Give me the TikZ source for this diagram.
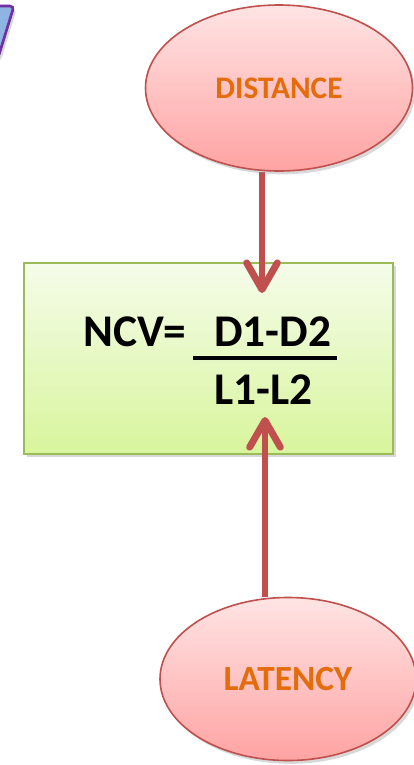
\documentclass[tikz,border=0pt]{standalone}
\usepackage{fontspec}
\setmainfont{Carlito}
\usetikzlibrary{shapes.geometric,arrows.meta,shadows}
\definecolor{ellborder}{HTML}{C0504D}
\definecolor{elltop}{HTML}{FFE4E4}
\definecolor{ellbot}{HTML}{FFA3A3}
\definecolor{orangetxt}{HTML}{E46C0A}
\definecolor{boxborder}{HTML}{9BBB59}
\definecolor{boxtop}{HTML}{F5FCEA}
\definecolor{boxbot}{HTML}{D8F59C}
\definecolor{arrcol}{HTML}{C0504D}
\definecolor{purp}{HTML}{7030A0}
\definecolor{lblue}{HTML}{8EB4E3}
\pgfdeclarelayer{back}
\pgfdeclarelayer{mid}
\pgfsetlayers{back,mid,main}
\tikzset{
  ell/.style={ellipse, draw=ellborder, line width=1.2pt, top color=elltop, bottom color=ellbot,
    inner sep=0pt, text=orangetxt,
    drop shadow={opacity=0.3, shadow xshift=2pt, shadow yshift=-2.5pt}},
  fbox/.style={rectangle, draw=boxborder, line width=1.2pt, top color=boxtop, bottom color=boxbot,
    inner sep=0pt, drop shadow={opacity=0.3, shadow xshift=2pt, shadow yshift=-2.5pt}},
  eqtxt/.style={inner sep=0pt, anchor=base west, font=\bfseries\fontsize{34}{40}\selectfont},
  arr/.style={draw=arrcol, line width=5.2pt, -{Straight Barb[length=20pt, width=23pt, round]}}
}
\begin{document}
\begin{tikzpicture}[x=0.75pt, y=-0.75pt]
\clip (0,0) rectangle (414,765);
\begin{pgfonlayer}{back}
\fill[white] (0,0) rectangle (414,765);
\node[fbox, minimum width=276.75pt, minimum height=143.25pt] (box) at (208.5,358.5) {};
\end{pgfonlayer}
% purple shape partly visible top-left
\filldraw[draw=purp, fill=lblue, line width=2pt, rounded corners=3pt,
  drop shadow={opacity=0.3, shadow xshift=2pt, shadow yshift=-2.5pt}]
  (-40,6) -- (14,6) -- (-2,58) -- (-40,58) -- cycle;
\node[eqtxt] (ncv) at (83,346) {NCV=};
\node[eqtxt] (num) at (214,346) {D1-D2};
\node[eqtxt] (den) at (214,404) {L1-L2};
\draw[line width=3pt, drop shadow={opacity=0.2, shadow xshift=1pt, shadow yshift=-1.5pt}] (193,358) -- (337,358);
\node[ell, font=\bfseries\fontsize{23.5}{28}\selectfont, minimum width=200.25pt, minimum height=124.5pt] (dist) at (279,88) {DISTANCE};
\node[ell, font=\bfseries\fontsize{26.5}{31}\selectfont, minimum width=192pt, minimum height=122.25pt] (lat) at (288,679) {LATENCY};
\coordinate (t1) at (262,293);
\coordinate (t2) at (265,417);
\begin{pgfonlayer}{mid}
\draw[arr] ([xshift=-12.75pt]dist.south) -- (t1);
\draw[arr] ([xshift=-17.25pt]lat.north) -- (t2);
\end{pgfonlayer}
\end{tikzpicture}
\end{document}
